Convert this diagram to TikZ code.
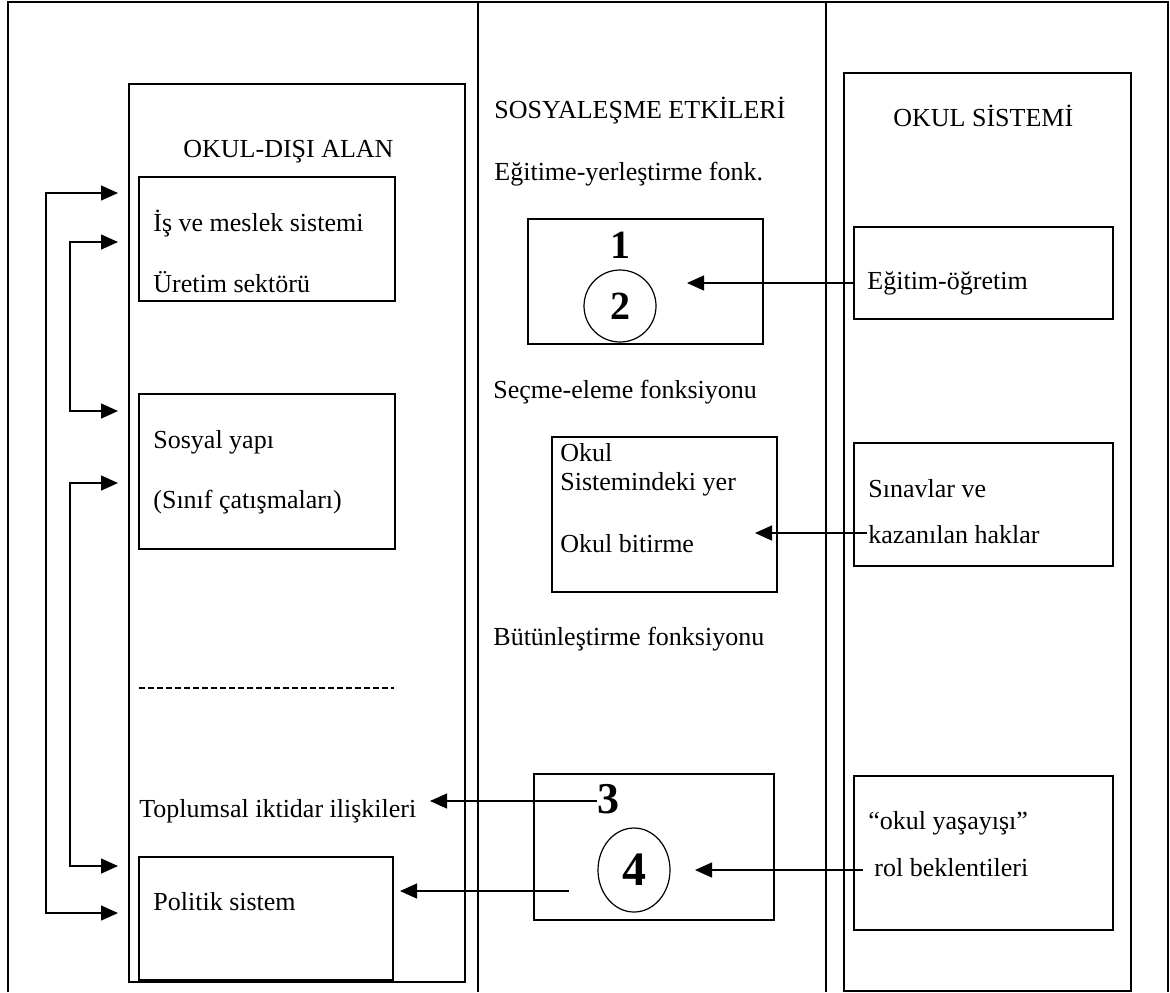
\documentclass[tikz,border=0pt]{standalone}
\usepackage{fontspec}
\setmainfont{Liberation Serif}
\usetikzlibrary{arrows.meta,shapes.geometric}

\begin{document}
\begin{tikzpicture}[x=0.5pt,y=-0.5pt]
		\tikzstyle{every node}=[font=\fontsize{13}{15}\selectfont];
		\tikzstyle{box}=[draw,line width=0.9pt,inner sep=0,anchor=north west];
		\tikzstyle{txt}=[inner sep=0,anchor=base west];
		\tikzstyle{num}=[inner sep=0,anchor=base,font=\bfseries\fontsize{20}{24}\selectfont];
		\tikzstyle{arr}=[line width=0.65pt,-{Triangle[length=8.5pt,width=7.5pt]}];
		\tikzstyle{dbl}=[line width=0.65pt,{Triangle[length=8.5pt,width=7.5pt]}-{Triangle[length=8.5pt,width=7.5pt]}];
		\useasboundingbox (0,0) rectangle (1170,992);
		% table frame
		\draw[line width=0.85pt] (8,992) -- (8,2) -- (1168,2) -- (1168,992)
		(478,2) -- (478,992)
		(826,2) -- (826,992);
		% left column
		\node[box,minimum width=168pt,minimum height=449pt] (disi) at (128,83) {};
		\node[box,minimum width=128pt,minimum height=62pt] (is) at (138,176) {};
		\node[box,minimum width=128pt,minimum height=77.5pt] (sosyal) at (138,393) {};
		\node[box,minimum width=127pt,minimum height=61.5pt] (politik) at (138,856) {};
		\node[txt] (t1) at (183,157) {OKUL-DIŞI ALAN};
		\node[txt] (t2) at (153,231) {İş ve meslek sistemi};
		\node[txt] (t3) at (153,292) {Üretim sektörü};
		\node[txt] (t4) at (153,448) {Sosyal yapı};
		\node[txt] (t5) at (153,508) {(Sınıf çatışmaları)};
		\node[txt] (t6) at (139,817) {Toplumsal iktidar ilişkileri};
		\node[txt] (t7) at (153,910) {Politik sistem};
		\draw[line width=0.6pt,dash pattern=on 3pt off 1.5pt] (139,688) -- (394,688);
		% middle column
		\node[txt] (m1) at (494,118) {SOSYALEŞME ETKİLERİ};
		\node[txt] (m2) at (494,180) {Eğitime-yerleştirme fonk.};
		\node[box,minimum width=117.5pt,minimum height=62.5pt] (kutu1) at (527,218) {};
		\node[num] (n1) at (620,258) {1};
		\node[draw,circle,line width=0.6pt,inner sep=0,minimum size=36pt,font=\bfseries\fontsize{20}{24}\selectfont] (n2) at (620,306) {2};
		\node[txt] (m3) at (493,398) {Seçme-eleme fonksiyonu};
		\node[box,minimum width=112.5pt,minimum height=77.5pt] (yer) at (551,436) {};
		\node[txt] (m4) at (560,461) {Okul};
		\node[txt] (m5) at (560,490) {Sistemindeki yer};
		\node[txt] (m6) at (560,552) {Okul bitirme};
		\node[txt] (m7) at (493,645) {Bütünleştirme fonksiyonu};
		\node[box,minimum width=120pt,minimum height=73pt] (kutu3) at (533,773) {};
		\node[num,font=\bfseries\fontsize{22}{26}\selectfont] (n3) at (608,813) {3};
		\node[draw,ellipse,line width=0.6pt,inner sep=0,minimum width=36pt,minimum height=42pt,font=\bfseries\fontsize{24}{28}\selectfont] (n4) at (634,870) {4};
		% right column
		\node[box,minimum width=143.5pt,minimum height=459pt] (sistem) at (843,72) {};
		\node[txt] (r1) at (893,126) {OKUL SİSTEMİ};
		\node[box,minimum width=129.5pt,minimum height=46pt] (egitim) at (853,226) {};
		\node[txt] (r2) at (867,289) {Eğitim-öğretim};
		\node[box,minimum width=129.5pt,minimum height=61.5pt] (sinav) at (853,442) {};
		\node[txt] (r3) at (868,497) {Sınavlar ve};
		\node[txt] (r4) at (868,543) {kazanılan haklar};
		\node[box,minimum width=129.5pt,minimum height=77pt] (yasayis) at (853,775) {};
		\node[txt] (r5) at (868,829) {“okul yaşayışı”};
		\node[txt] (r6) at (874,876) {rol beklentileri};
		% arrow ends
		\coordinate (a1) at (118,193);
		\coordinate (a2) at (118,913);
		\coordinate (b1) at (118,242);
		\coordinate (b2) at (118,411);
		\coordinate (c1) at (118,483);
		\coordinate (c2) at (118,866);
		\coordinate (e1) at (854,283);
		\coordinate (e2) at (687,283);
		\coordinate (s1) at (867,533);
		\coordinate (s2) at (755,533);
		\coordinate (y1) at (863,870);
		\coordinate (y2) at (695,870);
		\coordinate (k3) at (430,801);
		\coordinate (p1) at (569,891);
		\coordinate (p2) at (400,891);
		\draw[dbl] (a1) -- ++(-72,0) |- (a2);
		\draw[dbl] (b1) -- ++(-48,0) |- (b2);
		\draw[dbl] (c1) -- ++(-48,0) |- (c2);
		\draw[arr] (e1) -- (e2);
		\draw[arr] (s1) -- (s2);
		\draw[arr] (y1) -- (y2);
		\draw[arr] (n3.west |- k3) -- (k3);
		\draw[arr] (p1) -- (p2);
\end{tikzpicture}
\end{document}
